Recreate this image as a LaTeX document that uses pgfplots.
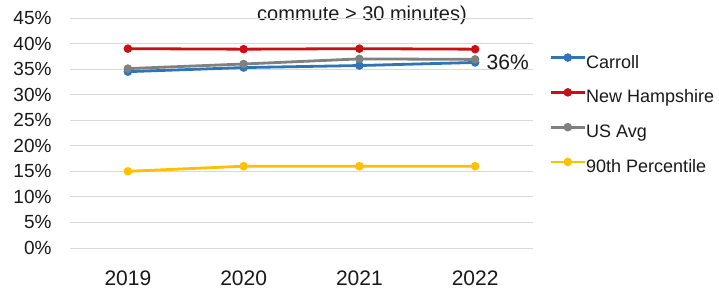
\documentclass[border=0pt]{standalone}
\usepackage{pgfplots}
\pgfplotsset{compat=1.18}
\usepackage{fontspec}
\setmainfont{Liberation Sans}
\definecolor{cblue}{RGB}{46,117,182}
\definecolor{cred}{RGB}{200,16,22}
\definecolor{cgray}{RGB}{128,128,128}
\definecolor{cgold}{RGB}{255,192,0}
\definecolor{cgrid}{RGB}{217,217,217}
\begin{document}
\begin{tikzpicture}[x=1pt,y=1pt]
\useasboundingbox (0,0) rectangle (719,289);
\node[font=\fontsize{20}{24}\selectfont, anchor=base, text=black!90] at (362,268) {commute > 30 minutes)};
\begin{axis}[
  at={(70pt,41pt)}, anchor=south west,
  scale only axis, width=463pt, height=230pt,
  xmin=-0.5, xmax=3.5, ymin=0, ymax=45,
  xtick={0,1,2,3}, xticklabels={2019,2020,2021,2022},
  ytick={0,5,...,45},
  yticklabel={\pgfmathprintnumber{\tick}\%},
  /pgf/number format/assume math mode=true,
  ticklabel style={text=black!90},
  yticklabel style={font=\fontsize{19}{22}\selectfont, xshift=-15pt},
  xticklabel style={font=\fontsize{21}{25}\selectfont, yshift=-19pt},
  axis line style={draw=none},
  major tick length=0pt,
  ymajorgrids, grid style={cgrid, line width=0.8pt},
  clip=false,
  legend style={at={(1.035,0.841)}, anchor=north west, draw=none, fill=none,
    font=\fontsize{18}{21}\selectfont, text=black!90, row sep=17.5pt,
    inner sep=0pt, cells={anchor=west},
    nodes={text height=13pt, text depth=4pt, inner sep=0pt}},
  legend image code/.code={
    \draw[#1, mark=none] (0pt,6pt) -- (34pt,6pt);
    \draw[#1, only marks] plot coordinates {(17pt,6pt)};
  },
]
\addplot[cblue, line width=2.8pt, mark=*, mark size=2.8pt] coordinates {(0,34.5) (1,35.3) (2,35.7) (3,36.3)};
\addlegendentry{Carroll}
\addplot[cred, line width=2.8pt, mark=*, mark size=2.8pt] coordinates {(0,39.0) (1,38.9) (2,39.0) (3,38.9)};
\addlegendentry{New Hampshire}
\addplot[cgray, line width=2.8pt, mark=*, mark size=2.8pt] coordinates {(0,35.1) (1,36.0) (2,37.0) (3,36.9)};
\addlegendentry{US Avg}
\addplot[cgold, line width=2.8pt, mark=*, mark size=2.8pt] coordinates {(0,15.0) (1,16.0) (2,16.0) (3,16.0)};
\addlegendentry{90th Percentile}
\node[anchor=west, font=\fontsize{21}{25}\selectfont, text=black!90] at (axis cs:3,36.4) [xshift=8pt] {36\%};
\end{axis}
\end{tikzpicture}
\end{document}
